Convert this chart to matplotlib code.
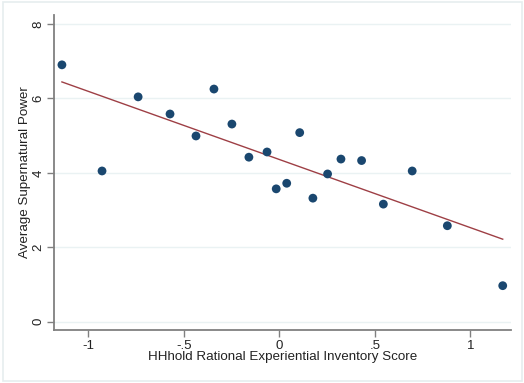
import numpy as np
import matplotlib.pyplot as plt
from matplotlib.patches import Rectangle

# --- Data ---
rei_score = [-1.138, -0.928, -0.739, -0.572, -0.436, -0.342, -0.248, -0.159, -0.064,
             -0.016, 0.039, 0.107, 0.176, 0.253, 0.323, 0.431, 0.545, 0.696, 0.880, 1.170]
super_power = [6.90, 4.05, 6.04, 5.58, 4.99, 6.25, 5.31, 4.42, 4.56,
               3.57, 3.72, 5.08, 3.32, 3.97, 4.37, 4.33, 3.16, 4.05, 2.58, 0.97]
x_ticks = [-1, -0.5, 0, 0.5, 1]
x_labels = ["-1", "-.5", "0", ".5", "1"]
y_ticks = [0, 2, 4, 6, 8]

plt.rcParams['font.family'] = ['Liberation Sans', 'DejaVu Sans']

fig = plt.figure(figsize=(5.24, 3.83), dpi=100)
ax = fig.add_axes([0.1025, 0.1384, 0.8733, 0.8226])

# fitted line
x = np.array(rei_score)
y = np.array(super_power)
slope, intercept = np.polyfit(x, y, 1)
xf = np.array([x.min(), x.max()])
ax.plot(xf, intercept + slope * xf, color="#9e3f45", lw=1.0, zorder=3)

ax.scatter(x, y, s=40, color="#1a476f", edgecolors="none", zorder=4)

ax.set_xlim(-1.181, 1.215)
ax.set_ylim(-0.22, 8.24)
ax.set_xticks(x_ticks)
ax.set_xticklabels(x_labels)
ax.set_yticks(y_ticks)
ax.set_yticklabels([str(v) for v in y_ticks], rotation=90, va="center")

ax.grid(axis="y", color="#eaf2f3", lw=1.0)
ax.set_axisbelow(True)
for side in ["top", "right"]:
    ax.spines[side].set_visible(False)
for side in ["left", "bottom"]:
    ax.spines[side].set_color("#808080")
    ax.spines[side].set_linewidth(1.3)
ax.tick_params(colors="#808080", labelcolor="#222222", length=5, width=1, labelsize=9.5)
ax.tick_params(axis="y", pad=1.5)
ax.tick_params(axis="x", pad=2.5)

ax.set_xlabel("HHhold Rational Experiential Inventory Score", fontsize=9.6, color="#222222", labelpad=-1)
ax.set_ylabel("Average Supernatural Power", fontsize=9.6, color="#222222", labelpad=1)

# light frame around the graph region
fig.patches.append(Rectangle((0.005, 0.004), 0.992, 0.99, transform=fig.transFigure,
                             fill=False, edgecolor="#e6edef", lw=1.2))

fig.savefig("out.png", dpi=100)
